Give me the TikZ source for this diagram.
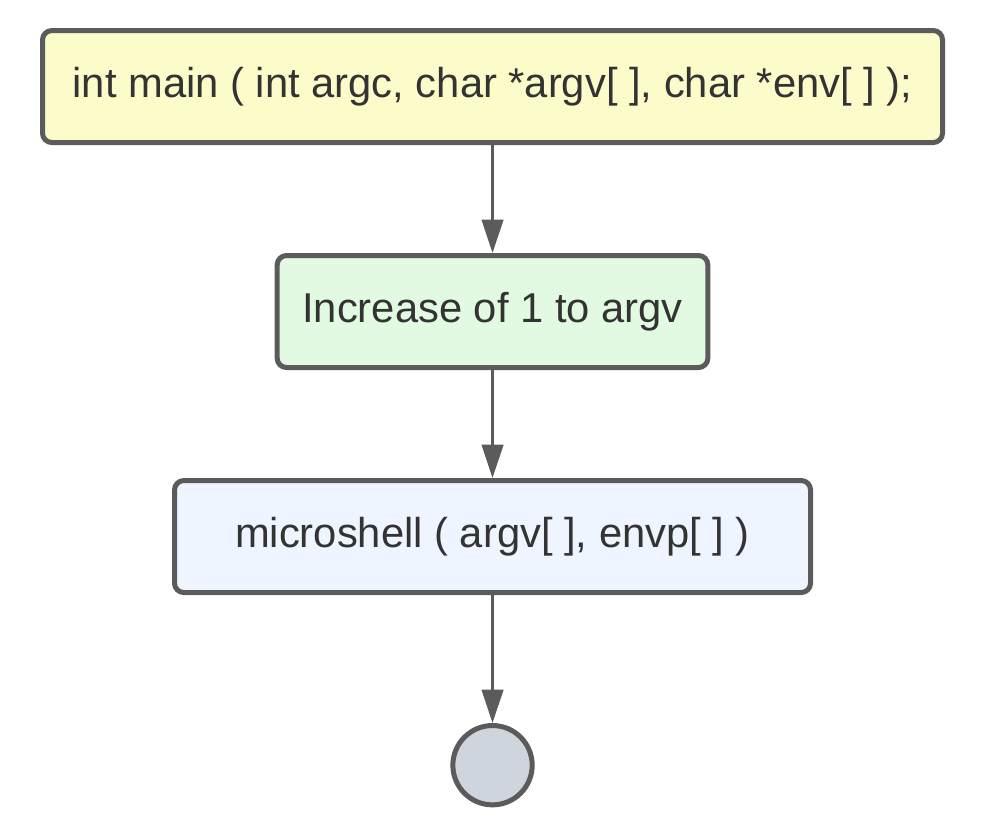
\documentclass[tikz,border=0pt]{standalone}
\usepackage{fontspec}
\setmainfont{Liberation Sans}
\usepackage{xcolor}
\definecolor{Edge}{HTML}{5B5B5B}
\definecolor{Ink}{HTML}{333333}
\definecolor{Lemon}{HTML}{FCFCCB}
\definecolor{Mint}{HTML}{E2F9E2}
\definecolor{Sky}{HTML}{EEF5FE}
\definecolor{Slate}{HTML}{CFD5DD}
\colorlet{edge}{Edge}
\colorlet{ink}{Ink}
\colorlet{lemon}{Lemon}
\colorlet{mint}{Mint}
\colorlet{sky}{Sky}
\colorlet{slate}{Slate}
\usepackage{tikz}
\usetikzlibrary{arrows.meta,positioning}

\begin{document}
\begin{tikzpicture}[node distance=81pt,every node/.style={font=\fontsize{31.3}{37}\selectfont,text=ink,align=center},
  flowbox/.style={draw=edge,line width=3.75pt,rounded corners=7pt,minimum height=84pt}]
\node[flowbox,fill=lemon,minimum width=675pt] (main) {int main ( int argc, char *argv[ ], char *env[ ] );};
\node[flowbox,fill=mint,minimum width=323pt,below=of main] (inc) {Increase of 1 to argv};
\node[flowbox,fill=sky,minimum width=477pt,below=of inc] (shell) {microshell ( argv[ ], envp[ ] )};
\node[circle,draw=edge,line width=3.75pt,fill=slate,minimum size=59.5pt,below=96pt of shell] (stop) {};
\draw[-{Triangle[length=25pt,width=16pt]},line width=2.25pt,edge] (main)--(inc);\draw[-{Triangle[length=25pt,width=16pt]},line width=2.25pt,edge] (inc)--(shell);\draw[-{Triangle[length=25pt,width=16pt]},line width=2.25pt,edge] (shell)--(stop);
\useasboundingbox (main.center) ++(-369.4pt,64.9pt) rectangle ++(750.75pt,-625.5pt);
\end{tikzpicture}
\end{document}
